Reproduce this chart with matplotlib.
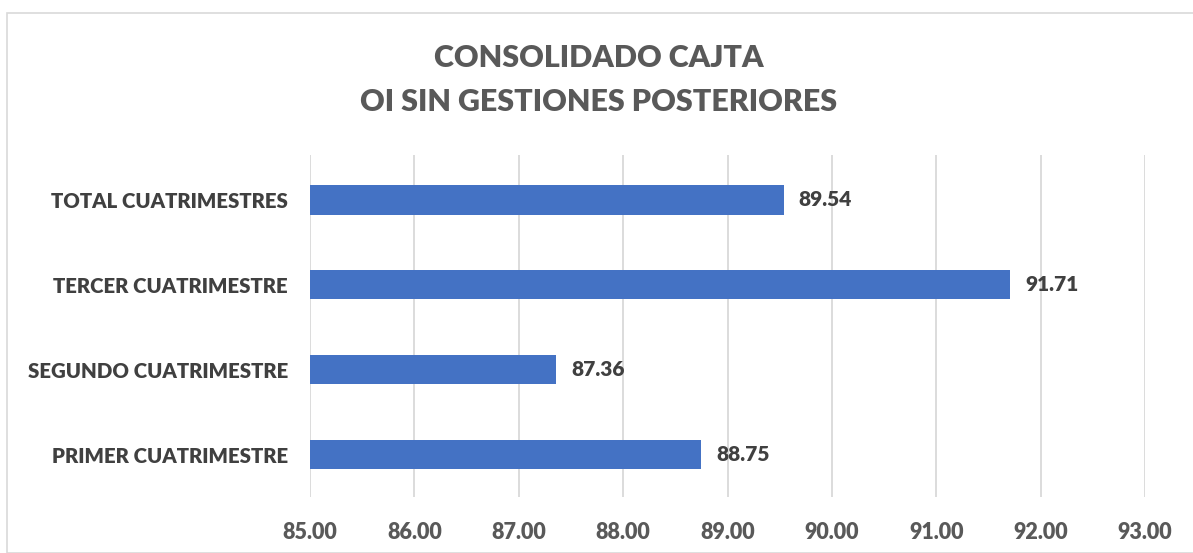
import matplotlib.pyplot as plt
from matplotlib.patches import Rectangle

# Datos del gráfico
categorias = ['PRIMER CUATRIMESTRE', 'SEGUNDO CUATRIMESTRE',
              'TERCER CUATRIMESTRE', 'TOTAL CUATRIMESTRES']
valores = [88.75, 87.36, 91.71, 89.54]
ticks_x = [85, 86, 87, 88, 89, 90, 91, 92, 93]

plt.rcParams['font.family'] = ['Lato', 'DejaVu Sans']

fig = plt.figure(figsize=(11.93, 5.53), dpi=100)
ax = fig.add_axes([310 / 1193, 56 / 553, 835 / 1193, 342 / 553])

y = range(len(categorias))
ax.barh(y, [v - 85 for v in valores], left=85, height=0.345,
        color='#4472C4', zorder=3)

for i, v in enumerate(valores):
    ax.text(v + 0.14, i, f'{v:.2f}', va='center', ha='left',
            fontsize=15, fontweight='heavy', color='#404040')

ax.set_xlim(85, 93)
ax.set_ylim(-0.5, 3.53)
ax.set_xticks(ticks_x)
ax.set_xticklabels([f'{t:.2f}' for t in ticks_x], fontsize=15.5,
                   fontweight='heavy', color='#595959')
ax.set_yticks(list(y))
ax.set_yticklabels(categorias, fontsize=14.7, fontweight='heavy', color='#404040')
ax.tick_params(length=0, pad=16, axis='y')
ax.tick_params(length=0, pad=18, axis='x')
ax.grid(axis='x', color='#D9D9D9', linewidth=1.3, zorder=0)
for s in ax.spines.values():
    s.set_visible(False)

fig.text(599 / 1193, 1 - 80 / 553, 'CONSOLIDADO CAJTA\nOI SIN GESTIONES POSTERIORES',
         ha='center', va='center', fontsize=21.9, fontweight='heavy',
         color='#595959', linespacing=1.68)

# Borde exterior del gráfico
fig.patches.append(Rectangle((7 / 1193, 0), 1.2, 1 - 13 / 553,
                             transform=fig.transFigure, fill=False,
                             edgecolor='#D9D9D9', linewidth=1.2))

fig.savefig('out.png', dpi=100)
